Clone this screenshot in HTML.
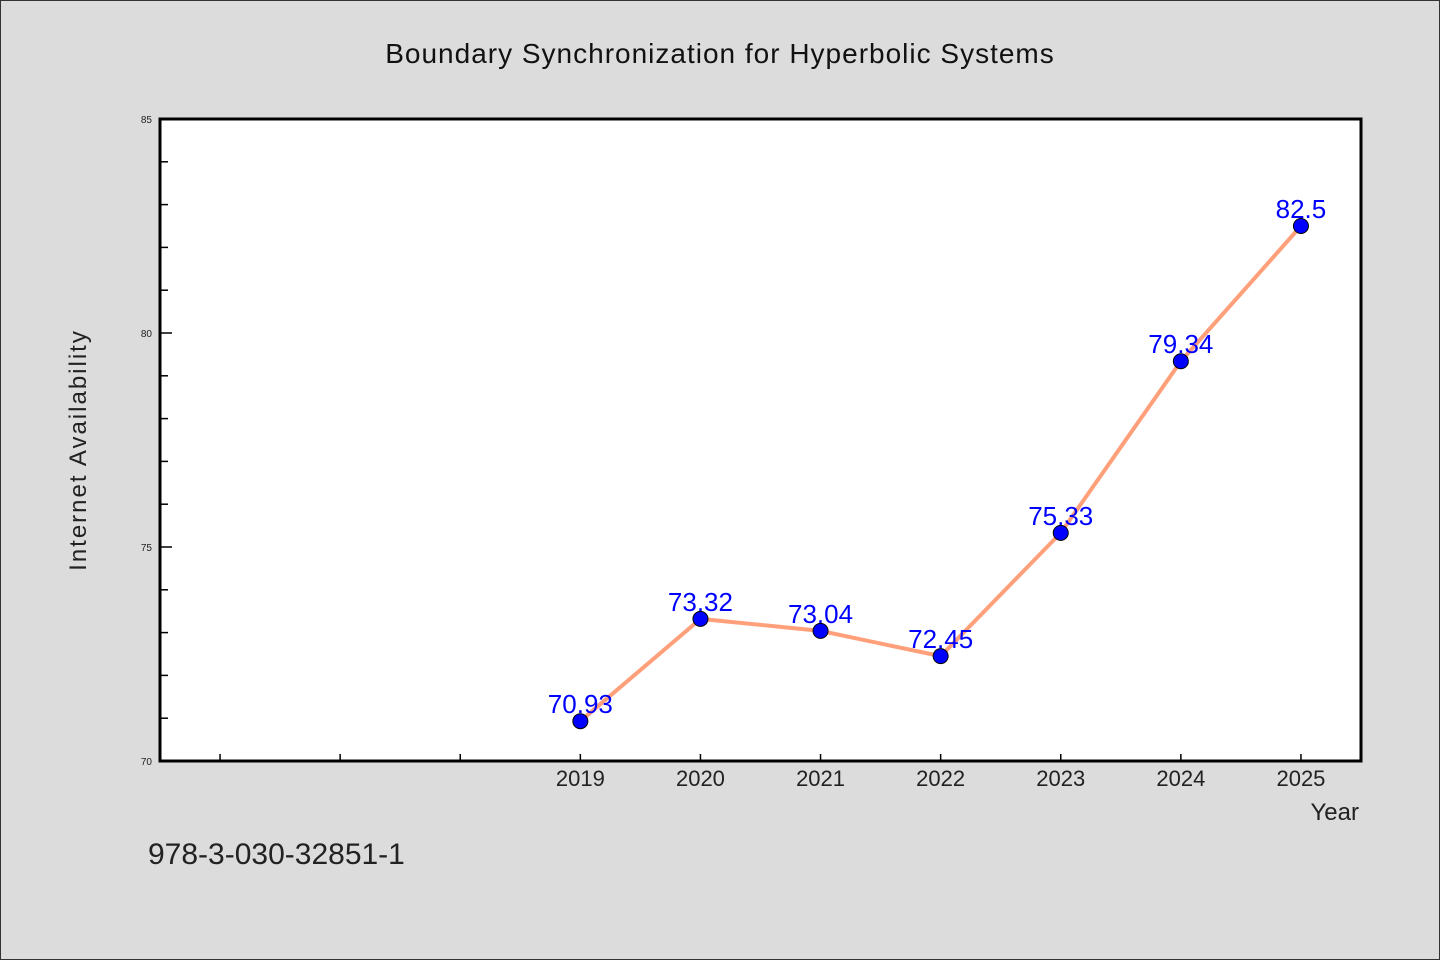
<!DOCTYPE html>
<html><head><meta charset="utf-8"><style>
html,body{margin:0;padding:0;background:#dcdcdc;}
svg{display:block;font-family:"WenQuanYi Zen Hei","Liberation Sans",sans-serif;}
</style></head><body>
<svg id="chart" width="1440" height="960" viewBox="0 0 1440 960">
<rect x="0.5" y="0.5" width="1439" height="959" fill="#dcdcdc" stroke="#333"/>
<text x="720" y="63" text-anchor="middle" font-size="28" fill="#111" letter-spacing="1">Boundary Synchronization for Hyperbolic Systems</text>
<rect x="160" y="119" width="1201" height="642" fill="#fff"/>
<g id="grid"></g>
<g id="series"></g>
<path d="M160,119 H1361 V761 H160 Z" fill="none" stroke="#000" stroke-width="3"/>
<text x="86" y="450" text-anchor="middle" font-size="24" fill="#222" letter-spacing="2" transform="rotate(-90 86 450)">Internet Availability</text>
<text x="1359" y="820" text-anchor="end" font-size="24" fill="#222">Year</text>
<text x="148" y="864" font-size="30" fill="#222">978-3-030-32851-1</text>
</svg>
<script>
const years=[2019,2020,2021,2022,2023,2024,2025];
const values=[70.93,73.32,73.04,72.45,75.33,79.34,82.5];
const valueLabels=["70.93","73.32","73.04","72.45","75.33","79.34","82.5"];
const yTickLabels=[70,75,80,85];
const xMinorTicks=[2016,2017,2018];
const NS="http://www.w3.org/2000/svg";
const X0=160,X1=1361,Y0=761,Y1=119,xmin=2015.5,xmax=2025.5,ymin=70,ymax=85;
const sx=v=>X0+(v-xmin)/(xmax-xmin)*(X1-X0);
const sy=v=>Y0-(v-ymin)/(ymax-ymin)*(Y0-Y1);
function mk(tag,attrs,parent){const e=document.createElementNS(NS,tag);for(const k in attrs)e.setAttribute(k,attrs[k]);parent.appendChild(e);return e;}
const grid=document.getElementById('grid'),ser=document.getElementById('series');
for(let v=ymin;v<=ymax;v++){
  const major=yTickLabels.includes(v);
  const t=mk('line',{x1:X0,x2:X0+(major?12:8),y1:sy(v),y2:sy(v),stroke:'#000','stroke-width':1.5},grid);
  
  
}
yTickLabels.forEach(v=>{
  const t=mk('text',{x:X0-8,y:sy(v)+4,'text-anchor':'end','font-size':10,fill:'#222'},grid);
  t.textContent=v;
  
  
});
xMinorTicks.concat(years).forEach(v=>{
  const t=mk('line',{x1:sx(v),x2:sx(v),y1:Y0,y2:Y0-7,stroke:'#000','stroke-width':1.5},grid);
  
  
});
years.forEach(v=>{
  const t=mk('text',{x:sx(v),y:Y0+25,'text-anchor':'middle','font-size':22,fill:'#222'},grid);
  t.textContent=v;
  
  
});
const pts=years.map((y,i)=>sx(y)+','+sy(values[i])).join(' ');
const line=mk('polyline',{points:pts,fill:'none',stroke:'#ffa07a','stroke-width':4,'stroke-linejoin':'round'},ser);


years.forEach((y,i)=>{
  const c=mk('circle',{cx:sx(y),cy:sy(values[i]),r:7.5,fill:'#0000ff',stroke:'#000','stroke-width':1},ser);
  
  
});
years.forEach((y,i)=>{
  const t=mk('text',{x:sx(y),y:sy(values[i])-8,'text-anchor':'middle','font-size':26,fill:'#0000ff'},ser);
  t.textContent=valueLabels[i];
  
  
});
</script>
</body></html>
